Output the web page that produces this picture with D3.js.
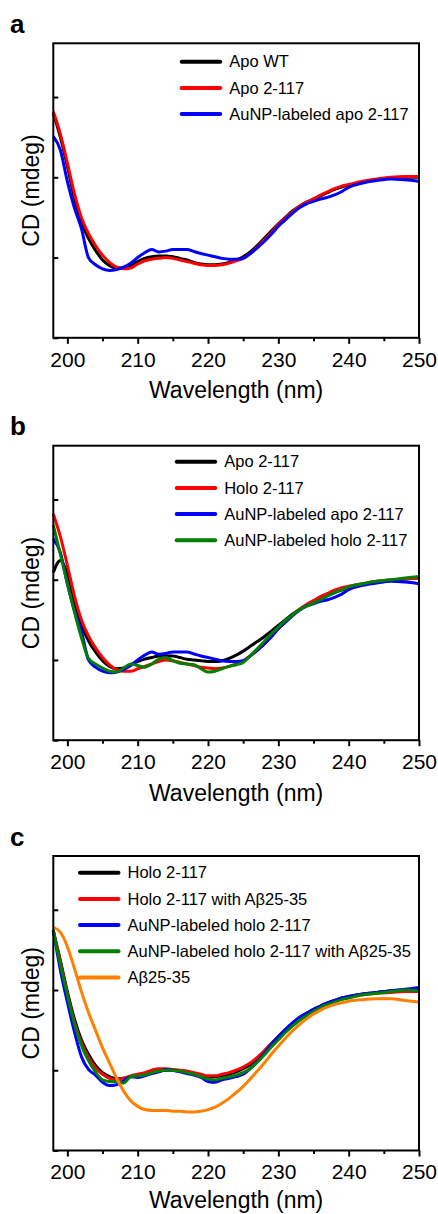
<!DOCTYPE html>
<html>
<head>
<meta charset="utf-8">
<script src="https://cdn.jsdelivr.net/npm/d3@7"></script>
<style>
  body { margin: 0; background: #fff; }
  svg { display: block; font-family: "Liberation Sans", Arial, sans-serif; }
</style>
</head>
<body>
<svg id="chart" width="438" height="1214"></svg>
<script>
// wavelength grid (nm)
const wavelength = [198, 199, 200, 201, 202, 203, 204, 205, 206, 207, 208, 209, 210,
  211, 212, 213, 214, 215, 216, 217, 218, 219, 220, 221, 222, 223, 224, 225, 226, 227,
  228, 229, 230, 231, 232, 233, 234, 235, 236, 237, 238, 239, 240, 242, 244, 246, 248, 250];

const xTicks = [200, 210, 220, 230, 240, 250];
const xMinorTicks = [205, 215, 225, 235, 245];
const yTicks = [-30, -20, -10, 0];

// panel a
const aApoWT = [-2.0, -5.0, -8.6, -12.6, -15.6, -17.6, -19.1, -20.3, -21.0, -21.3, -21.3, -21.0, -20.5,
  -20.1, -19.9, -19.8, -19.8, -19.9, -20.1, -20.3, -20.6, -20.8, -20.9, -20.9, -20.8, -20.6, -20.3, -19.9, -19.3, -18.5,
  -17.6, -16.7, -15.8, -15.0, -14.2, -13.6, -13.1, -12.7, -12.3, -11.9, -11.5, -11.2, -11.0, -10.6, -10.3, -10.1, -10.0, -10.0];
const aApo2117 = [-1.8, -4.6, -8.2, -12.0, -15.0, -17.0, -18.5, -19.7, -20.6, -21.2, -21.4, -21.3, -20.8,
  -20.4, -20.2, -20.1, -20.0, -20.1, -20.3, -20.5, -20.7, -20.9, -21.0, -21.0, -20.9, -20.7, -20.4, -20.1, -19.5, -18.7,
  -17.8, -16.9, -15.9, -15.1, -14.3, -13.6, -13.1, -12.7, -12.2, -11.8, -11.4, -11.1, -10.9, -10.5, -10.2, -10.0, -9.9, -9.9];
const aAuApo2117 = [-4.9, -6.6, -10.5, -13.8, -16.4, -20.0, -20.9, -21.4, -21.6, -21.5, -21.2, -20.7, -20.0,
  -19.4, -19.0, -19.3, -19.2, -19.0, -19.0, -19.0, -19.25, -19.5, -19.7, -19.9, -20.1, -20.2, -20.2, -20.1, -19.5, -18.8,
  -18.0, -17.1, -16.1, -15.3, -14.5, -13.8, -13.3, -13.0, -12.7, -12.5, -12.2, -11.8, -11.25, -10.7, -10.4, -10.2, -10.3, -10.5];

// panel b
const bApo2117 = [-9.1, -7.6, -9.2, -12.6, -15.6, -17.6, -19.0, -20.1, -20.8, -21.1, -21.0, -20.6, -20.2,
  -19.9, -19.7, -19.5, -19.5, -19.5, -19.7, -19.9, -20.0, -20.1, -20.2, -20.2, -20.1, -19.8, -19.4, -18.9, -18.3, -17.7,
  -17.1, -16.4, -15.7, -15.0, -14.3, -13.7, -13.2, -12.8, -12.4, -12.0, -11.6, -11.3, -11.0, -10.6, -10.3, -10.1, -9.9, -9.8];
const bHolo2117 = [-1.8, -4.6, -8.2, -12.0, -15.0, -17.0, -18.5, -19.7, -20.6, -21.2, -21.4, -21.4, -21.1,
  -20.8, -20.5, -20.2, -20.0, -20.1, -20.3, -20.5, -20.7, -20.9, -21.0, -21.1, -21.0, -20.8, -20.5, -20.1, -19.5, -18.8,
  -18.0, -17.1, -16.1, -15.2, -14.4, -13.7, -13.1, -12.6, -12.1, -11.7, -11.3, -11.0, -10.8, -10.5, -10.2, -10.0, -9.9, -9.8];
const bAuApo2117 = aAuApo2117;
const bAuHolo2117 = [-3.2, -6.8, -10.5, -14.0, -17.2, -19.8, -20.5, -21.0, -21.4, -21.5, -21.0, -20.5, -20.7,
  -20.9, -20.5, -19.9, -19.7, -20.1, -20.4, -20.5, -20.6, -21.1, -21.5, -21.4, -21.1, -20.8, -20.6, -20.3, -19.5, -18.6,
  -17.7, -16.75, -15.9, -15.1, -14.4, -13.75, -13.3, -12.9, -12.5, -12.0, -11.6, -11.25, -10.9, -10.5, -10.2, -10.0, -9.8, -9.6];

// panel c
const cHolo2117 = [-2.7, -6.3, -10.2, -13.6, -16.2, -18.0, -19.4, -20.3, -20.8, -21.1, -21.0, -20.8, -20.6,
  -20.5, -20.3, -20.1, -20.0, -20.0, -20.1, -20.2, -20.4, -20.6, -20.8, -20.8, -20.7, -20.5, -20.2, -19.8, -19.3, -18.5,
  -17.6, -16.7, -15.8, -15.0, -14.2, -13.5, -12.9, -12.4, -12.0, -11.6, -11.3, -11.0, -10.8, -10.5, -10.3, -10.1, -10.0, -9.9];
const cHoloAb = [-2.6, -6.5, -10.5, -14.0, -16.6, -18.4, -19.7, -20.5, -21.0, -21.2, -21.0, -20.7, -20.5,
  -20.3, -20.0, -19.8, -19.8, -19.9, -20.0, -20.1, -20.3, -20.5, -20.7, -20.7, -20.5, -20.3, -20.0, -19.6, -19.1, -18.4,
  -17.6, -16.7, -15.9, -15.1, -14.3, -13.6, -13.0, -12.5, -12.1, -11.7, -11.4, -11.1, -10.9, -10.6, -10.4, -10.3, -10.2, -10.2];
const cAuHolo2117 = [-2.5, -7.5, -11.5, -15.2, -18.3, -19.9, -20.6, -21.5, -21.9, -21.8, -21.3, -20.8, -20.9,
  -20.7, -20.4, -20.2, -19.9, -20.0, -20.2, -20.4, -20.6, -20.9, -21.4, -21.5, -21.2, -21.0, -20.8, -20.5, -19.8, -18.9,
  -17.9, -16.8, -15.8, -14.9, -14.1, -13.4, -12.9, -12.4, -12.0, -11.6, -11.3, -11.0, -10.8, -10.5, -10.3, -10.1, -9.9, -9.7];
const cAuHoloAb = [-2.6, -6.8, -10.6, -14.2, -16.9, -18.8, -20.2, -21.2, -21.4, -21.4, -21.6, -20.8, -20.7,
  -20.6, -20.3, -20.1, -20.0, -20.0, -20.1, -20.3, -20.5, -20.8, -21.1, -21.2, -21.0, -20.8, -20.6, -20.3, -19.8, -19.0,
  -18.1, -17.1, -16.2, -15.3, -14.5, -13.8, -13.2, -12.7, -12.2, -11.8, -11.5, -11.2, -11.0, -10.6, -10.4, -10.2, -10.0, -10.1];
const cAb2535 = [-2.2, -2.8, -4.6, -7.3, -10.2, -12.8, -15.0, -17.2, -19.1, -21.0, -22.6, -23.8, -24.5,
  -24.9, -25.0, -25.0, -25.0, -25.1, -25.1, -25.2, -25.2, -25.1, -24.9, -24.6, -24.1, -23.5, -22.8, -22.0, -21.1, -20.1,
  -19.1, -18.0, -17.0, -16.0, -15.1, -14.3, -13.6, -13.0, -12.5, -12.1, -11.8, -11.6, -11.4, -11.2, -11.1, -11.1, -11.3, -11.5];

const panels = [
  { letter: "a", top: 43.3, legendX: 181.7, legendY: 18.4, titleOffset: 60.5,
    series: [
      { name: "Apo WT", color: "#000000", values: aApoWT },
      { name: "Apo 2-117", color: "#ff0000", values: aApo2117 },
      { name: "AuNP-labeled apo 2-117", color: "#0000ff", values: aAuApo2117 }
    ] },
  { letter: "b", top: 445.7, legendX: 176.7, legendY: 16, titleOffset: 60.5,
    series: [
      { name: "Apo 2-117", color: "#000000", values: bApo2117 },
      { name: "Holo 2-117", color: "#ff0000", values: bHolo2117 },
      { name: "AuNP-labeled apo 2-117", color: "#0000ff", values: bAuApo2117 },
      { name: "AuNP-labeled holo 2-117", color: "#008000", values: bAuHolo2117 }
    ] },
  { letter: "c", top: 856, legendX: 80, legendY: 16.7, titleOffset: 57.5,
    series: [
      { name: "Holo 2-117", color: "#000000", values: cHolo2117 },
      { name: "Holo 2-117 with A\u03b225-35", color: "#ff0000", values: cHoloAb },
      { name: "AuNP-labeled holo 2-117", color: "#0000ff", values: cAuHolo2117 },
      { name: "AuNP-labeled holo 2-117 with A\u03b225-35", color: "#008000", values: cAuHoloAb },
      { name: "A\u03b225-35", color: "#ff8000", values: cAb2535 }
    ] }
];

const svg = d3.select("#chart");
const left = 53.3, right = 419, plotH = 294.5;

panels.forEach(p => {
  const top = p.top, bottom = p.top + plotH;

  const x = d3.scaleLinear().domain([198, 250]).range([left, right]);
  const y = d3.scaleLinear().domain([-30, 6.7]).range([bottom, top]);

  const g = svg.append("g");

  // panel letter
  g.append("text")
    .attr("x", 10).attr("y", top - 10.5)
    .attr("font-size", 26).attr("font-weight", "bold")
    .text(p.letter);

  // curves
  const line = d3.line()
    .x((d, i) => x(wavelength[i]))
    .y(d => y(d))
    .curve(d3.curveMonotoneX);

  g.selectAll("path.curve")
    .data(p.series)
    .join("path")
      .attr("class", "curve")
      .attr("fill", "none")
      .attr("stroke", d => d.color)
      .attr("stroke-width", 3)
      .attr("stroke-linejoin", "round")
      .attr("d", d => line(d.values));

  // axes
  const xAxis = d3.axisBottom(x).tickValues(xTicks).tickSize(6).tickPadding(8);
  const xAxisG = g.append("g").attr("transform", `translate(0,${bottom})`).call(xAxis);
  xAxisG.select(".domain").remove();
  xAxisG.selectAll("line").attr("stroke-width", 2);
  xAxisG.selectAll("text").attr("font-size", 21).attr("font-family", "Liberation Sans, Arial, sans-serif").attr("fill", "#000");

  const xMinor = d3.axisBottom(x).tickValues(xMinorTicks).tickSize(3.5).tickFormat("");
  const xMinorG = g.append("g").attr("transform", `translate(0,${bottom})`).call(xMinor);
  xMinorG.select(".domain").remove();
  xMinorG.selectAll("line").attr("stroke-width", 2);

  const yAxis = d3.axisRight(y).tickValues(yTicks).tickSize(5).tickFormat("");
  const yAxisG = g.append("g").attr("transform", `translate(${left},0)`).call(yAxis);
  yAxisG.select(".domain").remove();
  yAxisG.selectAll("line").attr("stroke-width", 2);

  // frame
  g.append("rect")
    .attr("x", left).attr("y", top)
    .attr("width", right - left).attr("height", plotH)
    .attr("fill", "none").attr("stroke", "#000").attr("stroke-width", 2);

  // axis titles
  g.append("text")
    .attr("x", (left + right) / 2).attr("y", bottom + p.titleOffset)
    .attr("text-anchor", "middle").attr("font-size", 23)
    .text("Wavelength (nm)");

  g.append("text")
    .attr("transform", `translate(31,${(top + bottom) / 2}) rotate(-90)`)
    .attr("text-anchor", "middle").attr("dy", "0.35em").attr("font-size", 23)
    .text("CD (mdeg)");

  // legend
  const leg = g.append("g").attr("transform", `translate(${p.legendX},${top + p.legendY})`);
  p.series.forEach((s, i) => {
    const row = leg.append("g").attr("transform", `translate(0,${i * 26.2})`);
    row.append("line")
      .attr("x1", 0).attr("x2", 38.5).attr("y1", 0).attr("y2", 0)
      .attr("stroke", s.color).attr("stroke-width", 4).attr("stroke-linecap", "round");
    row.append("text")
      .attr("x", 47.5).attr("dy", "0.35em").attr("font-size", 16.5)
      .text(s.name);
  });
});
</script>
</body>
</html>
